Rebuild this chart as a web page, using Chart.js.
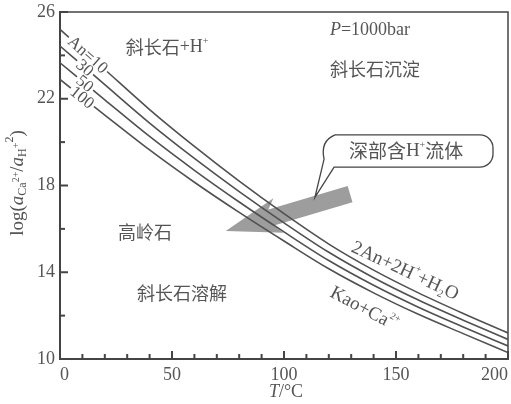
<!DOCTYPE html>
<html>
<head>
<meta charset="utf-8">
<script src="https://cdn.jsdelivr.net/npm/chart.js@4.4.0/dist/chart.umd.min.js"></script>
<style>
html, body { margin: 0; padding: 0; background: #fff; }
</style>
</head>
<body>
<canvas id="grafica" width="511" height="404"></canvas>
<script>
// datos
const temperaturas = [0, 20, 40, 60, 80, 100, 120, 140, 160, 180, 200];
const serieAn10  = [25.2, 23.35, 21.5, 19.8, 18.2, 16.7, 15.3, 14.1, 13.05, 12.1, 11.2];
const serieAn30  = [24.43, 22.65, 20.88, 19.25, 17.72, 16.28, 14.92, 13.75, 12.72, 11.79, 10.9];
const serieAn50  = [23.66, 21.95, 20.26, 18.7, 17.24, 15.86, 14.54, 13.4, 12.39, 11.48, 10.6];
const serieAn100 = [22.89, 21.25, 19.64, 18.15, 16.76, 15.44, 14.16, 13.05, 12.06, 11.17, 10.3];
const etiquetasAn = ['An=10', '30', '50', '100'];
const ticksX = [0, 50, 100, 150, 200];
const ticksY = [10, 14, 18, 22, 26];

const series = [serieAn10, serieAn30, serieAn50, serieAn100];
const gris = '#555';
const serif = '"Liberation Serif", "DejaVu Serif", serif';
const cjk = '"Noto Sans CJK SC", sans-serif';

function interpolar(serie, t) {
    for (let i = 0; i < temperaturas.length - 1; i++) {
        if (t >= temperaturas[i] && t <= temperaturas[i + 1]) {
            const f = (t - temperaturas[i]) / (temperaturas[i + 1] - temperaturas[i]);
            return serie[i] + f * (serie[i + 1] - serie[i]);
        }
    }
    return serie[serie.length - 1];
}

// dibuja texto con trozos de distinto tamaño (sub/superindices)
function textoRico(ctx, partes, x, y, ang) {
    ctx.save();
    ctx.translate(x, y);
    ctx.rotate(ang || 0);
    ctx.textBaseline = 'middle';
    ctx.textAlign = 'left';
    ctx.fillStyle = gris;
    let total = 0;
    partes.forEach(p => {
        ctx.font = (p.i ? 'italic ' : '') + (p.s || 18) + 'px ' + (p.f || serif);
        p.w = ctx.measureText(p.t).width;
        total += p.w;
    });
    let cx = -total / 2;
    partes.forEach(p => {
        ctx.font = (p.i ? 'italic ' : '') + (p.s || 18) + 'px ' + (p.f || serif);
        ctx.fillText(p.t, cx, p.dy || 0);
        cx += p.w;
    });
    ctx.restore();
}

const anotaciones = {
    id: 'anotaciones',
    beforeDatasetsDraw(chart) {
        const ctx = chart.ctx;
        const x = chart.scales.x, y = chart.scales.y;
        // flecha gris
        const tipX = x.getPixelForValue(74), tipY = y.getPixelForValue(15.9);
        const colX = x.getPixelForValue(129.5), colY = y.getPixelForValue(17.6);
        const dx = colX - tipX, dy = colY - tipY;
        const L = Math.hypot(dx, dy);
        const ux = dx / L, uy = dy / L;
        const nx = -uy, ny = ux;
        const cab = 55, ala = 18, banda = 8.5;
        ctx.save();
        ctx.fillStyle = '#9d9d9d';
        ctx.beginPath();
        ctx.moveTo(tipX, tipY);
        ctx.lineTo(tipX + ux * cab + nx * ala, tipY + uy * cab + ny * ala);
        ctx.lineTo(tipX + ux * (cab - 8) + nx * banda, tipY + uy * (cab - 8) + ny * banda);
        ctx.lineTo(colX + nx * banda, colY + ny * banda);
        ctx.lineTo(colX - nx * banda, colY - ny * banda);
        ctx.lineTo(tipX + ux * (cab - 8) - nx * banda, tipY + uy * (cab - 8) - ny * banda);
        ctx.lineTo(tipX + ux * cab - nx * ala, tipY + uy * cab - ny * ala);
        ctx.closePath();
        ctx.fill();
        ctx.restore();
    },
    afterDraw(chart) {
        const ctx = chart.ctx;
        const x = chart.scales.x, y = chart.scales.y;
        const area = chart.chartArea;

        // marco superior y derecho
        ctx.save();
        ctx.strokeStyle = '#444';
        ctx.lineWidth = 1.5;
        ctx.beginPath();
        ctx.moveTo(area.left, area.top);
        ctx.lineTo(area.right, area.top);
        ctx.lineTo(area.right, area.bottom);
        ctx.stroke();

        // marcas hacia dentro
        ctx.lineWidth = 2;
        for (let t = 0; t <= 200; t += 10) {
            const px = x.getPixelForValue(t);
            const largo = t % 50 === 0 ? 8 : 5;
            ctx.beginPath();
            ctx.moveTo(px, area.bottom);
            ctx.lineTo(px, area.bottom - largo);
            ctx.stroke();
        }
        for (let v = 10; v <= 26; v += 2) {
            const py = y.getPixelForValue(v);
            const largo = (v - 10) % 4 === 0 ? 8 : 5;
            ctx.beginPath();
            ctx.moveTo(area.left, py);
            ctx.lineTo(area.left + largo, py);
            ctx.stroke();
        }
        ctx.restore();

        // etiquetas sobre las curvas (con fondo blanco)
        const posT = [12.5, 11.2, 11.2, 10];
        series.forEach((serie, i) => {
            const t = posT[i];
            const px = x.getPixelForValue(t), py = y.getPixelForValue(interpolar(serie, t));
            const ang = Math.atan2(
                y.getPixelForValue(interpolar(serie, t + 4)) - y.getPixelForValue(interpolar(serie, t - 4)),
                x.getPixelForValue(t + 4) - x.getPixelForValue(t - 4));
            ctx.save();
            ctx.translate(px, py);
            ctx.rotate(ang);
            ctx.font = '17px ' + serif;
            const w = ctx.measureText(etiquetasAn[i]).width;
            ctx.fillStyle = '#fff';
            ctx.fillRect(-w / 2 - 2, -7, w + 4, 14);
            ctx.fillStyle = gris;
            ctx.textAlign = 'center';
            ctx.textBaseline = 'middle';
            ctx.fillText(etiquetasAn[i], 0, 1);
            ctx.restore();
        });

        // textos de regiones
        const P = (t, v) => [x.getPixelForValue(t), y.getPixelForValue(v)];
        let p;
        p = P(47.8, 24.39);
        textoRico(ctx, [{t: '斜长石', f: cjk, s: 18}, {t: '+H', s: 18}, {t: '+', s: 10, dy: -6}], p[0], p[1]);
        p = P(138.4, 25.17);
        textoRico(ctx, [{t: 'P', i: true}, {t: '=1000bar'}], p[0], p[1]);
        p = P(140.6, 23.37);
        textoRico(ctx, [{t: '斜长石沉淀', f: cjk, s: 18}], p[0], p[1]);
        p = P(37.9, 15.86);
        textoRico(ctx, [{t: '高岭石', f: cjk, s: 18}], p[0], p[1]);
        p = P(54.5, 13.04);
        textoRico(ctx, [{t: '斜长石溶解', f: cjk, s: 18}], p[0], p[1]);
        p = P(154, 14.05);
        textoRico(ctx, [{t: '2An+2H', s: 19}, {t: '+', s: 10, dy: -7}, {t: '+H', s: 19}, {t: '2', s: 11, dy: 6}, {t: 'O', s: 19}], p[0], p[1], 25 * Math.PI / 180);
        p = P(135.7, 12.3);
        textoRico(ctx, [{t: 'Kao+Ca', s: 19}, {t: '2+', s: 10, dy: -7}], p[0], p[1], 28 * Math.PI / 180);

        // globo de texto
        const b1 = P(117, 20.33), b2 = P(193.3, 18.85), punta = P(113.8, 17.45);
        const r = 13;
        ctx.save();
        ctx.strokeStyle = '#444';
        ctx.lineWidth = 1.3;
        ctx.fillStyle = '#fff';
        ctx.beginPath();
        ctx.moveTo(b1[0] + r, b1[1]);
        ctx.lineTo(b2[0] - r, b1[1]);
        ctx.arcTo(b2[0], b1[1], b2[0], b1[1] + r, r);
        ctx.arcTo(b2[0], b2[1], b2[0] - r, b2[1], r);
        ctx.lineTo(b1[0] + 12, b2[1]);
        ctx.lineTo(punta[0], punta[1]);
        ctx.lineTo(b1[0] + 2, b2[1] - 8);
        ctx.quadraticCurveTo(b1[0] - 2, b1[1] + 6, b1[0] + r, b1[1]);
        ctx.closePath();
        ctx.fill();
        ctx.stroke();
        ctx.restore();
        p = P(154.5, 19.58);
        textoRico(ctx, [{t: '深部含', f: cjk, s: 19}, {t: 'H', s: 19}, {t: '+', s: 10, dy: -6}, {t: '流体', f: cjk, s: 19}], p[0], p[1]);

        // titulos de ejes
        textoRico(ctx, [{t: 'log(', s: 19}, {t: 'a', i: true, s: 19}, {t: 'Ca', s: 12, dy: 5}, {t: '2+', s: 10, dy: -2},
            {t: '/', s: 19}, {t: 'a', i: true, s: 19}, {t: 'H', s: 12, dy: 5}, {t: '+', s: 10, dy: -2}, {t: '2', s: 12, dy: -8}, {t: ')', s: 19}],
            18, 183, -Math.PI / 2);
        textoRico(ctx, [{t: 'T', i: true}, {t: '/°C'}], (area.left + area.right) / 2 + 2, 392);
    }
};

new Chart(document.getElementById('grafica').getContext('2d'), {
    type: 'line',
    data: {
        datasets: series.map((serie, i) => ({
            label: etiquetasAn[i],
            data: temperaturas.map((t, j) => ({x: t, y: serie[j]})),
            borderColor: '#505050',
            borderWidth: 1.6,
            pointRadius: 0,
            fill: false,
            cubicInterpolationMode: 'monotone'
        }))
    },
    options: {
        responsive: false,
        animation: false,
        layout: {padding: {top: 12, right: 3, left: 0, bottom: 0}},
        plugins: {legend: {display: false}, tooltip: {enabled: false}},
        scales: {
            x: {
                type: 'linear',
                min: 0, max: 200,
                afterFit: s => { s.height = 45; s.paddingLeft = 0; s.paddingRight = 0; },
                ticks: {
                    stepSize: 10,
                    autoSkip: false,
                    maxRotation: 0,
                    align: 'inner',
                    padding: 5,
                    color: gris,
                    font: {family: serif, size: 18},
                    callback: v => ticksX.includes(v) ? String(v) : ''
                },
                grid: {drawOnChartArea: false, drawTicks: false},
                border: {color: '#444', width: 2}
            },
            y: {
                type: 'linear',
                min: 10, max: 26,
                afterFit: s => { s.width = 60; s.paddingTop = 0; s.paddingBottom = 0; },
                ticks: {
                    stepSize: 2,
                    autoSkip: false,
                    padding: 5,
                    color: gris,
                    font: {family: serif, size: 18},
                    callback: v => ticksY.includes(v) ? String(v) : ''
                },
                grid: {drawOnChartArea: false, drawTicks: false},
                border: {color: '#444', width: 2}
            }
        }
    },
    plugins: [anotaciones]
});
</script>
</body>
</html>
